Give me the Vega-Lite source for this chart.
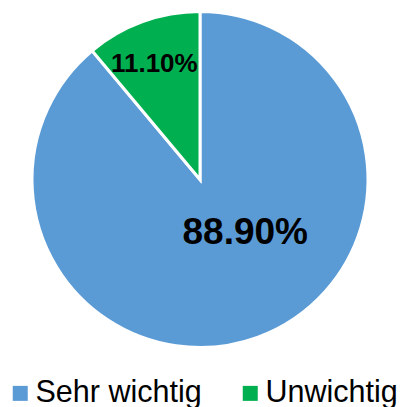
{
  "$schema": "https://vega.github.io/schema/vega-lite/v6.json",
  "width": 400,
  "height": 359,
  "padding": 0,
  "background": "white",
  "data": {
    "values": [
      {"category": "Sehr wichtig", "value": 88.9, "label": "88.90%"},
      {"category": "Unwichtig", "value": 11.1, "label": "11.10%"}
    ]
  },
  "encoding": {
    "theta": {"field": "value", "type": "quantitative", "stack": true},
    "order": {"field": "category", "sort": "ascending"}
  },
  "layer": [
    {
      "mark": {"type": "arc", "outerRadius": 168, "stroke": "white", "strokeWidth": 3},
      "encoding": {
        "color": {
          "field": "category",
          "type": "nominal",
          "scale": {"domain": ["Sehr wichtig", "Unwichtig"], "range": ["#5B9BD5", "#00B050"]},
          "legend": {
            "title": null,
            "orient": "none",
            "direction": "horizontal",
            "legendX": 5,
            "legendY": 378,
            "symbolType": "square",
            "symbolSize": 225,
            "symbolStrokeWidth": 0,
            "labelFontSize": 30.5,
            "labelFont": "Liberation Sans",
            "labelColor": "black",
            "labelLimit": 0,
            "labelOffset": 0,
            "columnPadding": 33,
            "padding": 0
          }
        }
      }
    },
    {
      "mark": {"type": "text", "radius": 71, "dx": 21, "dy": -13, "fontSize": 37, "fontWeight": "bold", "font": "Liberation Sans", "color": "black"},
      "encoding": {
        "text": {"condition": {"test": "datum.category === 'Sehr wichtig'", "field": "label"}, "value": ""}
      }
    },
    {
      "mark": {"type": "text", "radius": 122, "dx": -4, "dy": -1, "fontSize": 26, "fontWeight": "bold", "font": "Liberation Sans", "color": "black"},
      "encoding": {
        "text": {"condition": {"test": "datum.category === 'Unwichtig'", "field": "label"}, "value": ""}
      }
    }
  ],
  "config": {"view": {"stroke": null}}
}
